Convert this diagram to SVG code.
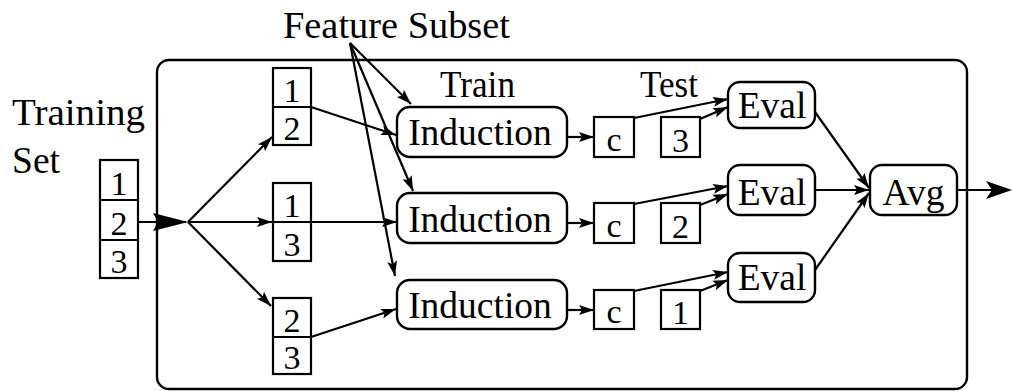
<svg xmlns="http://www.w3.org/2000/svg" width="1012" height="391" viewBox="0 0 1012 391">
  <style>
    text { font-family: "Liberation Serif", "Times New Roman", serif; fill: #000; }
    .lbl { font-size: 37.5px; }
    .num { font-size: 34px; text-anchor: middle; }
    .mid { text-anchor: middle; }
    .box { fill: #fff; stroke: #000; stroke-width: 2.2; }
    .rbox { fill: #fff; stroke: #000; stroke-width: 2.4; }
    .edge { fill: none; stroke: #000; stroke-width: 2.2; marker-end: url(#arr); }
    .plain { fill: none; stroke: #000; stroke-width: 2.2; }
  </style>
  <defs>
    <marker id="arr" markerUnits="userSpaceOnUse" markerWidth="16" markerHeight="12" refX="15" refY="6" orient="auto">
      <path d="M0,1 L15,6 L0,11 L3,6 Z" fill="#000"/>
    </marker>
  </defs>
  <rect width="1012" height="391" fill="#fff"/>

  <!-- enclosing process frame -->
  <rect id="frame" x="157" y="60" width="810" height="329" rx="12" fill="none" stroke="#000" stroke-width="2.4"/>

  <!-- free labels -->
  <text class="lbl" x="283" y="38" textLength="227" lengthAdjust="spacingAndGlyphs">Feature Subset</text>
  <text class="lbl" x="12" y="125" textLength="133" lengthAdjust="spacingAndGlyphs">Training</text>
  <text class="lbl" x="12" y="173" textLength="48" lengthAdjust="spacingAndGlyphs">Set</text>
  <text class="lbl" x="440" y="97" textLength="75" lengthAdjust="spacingAndGlyphs">Train</text>
  <text class="lbl" x="640" y="97" textLength="58" lengthAdjust="spacingAndGlyphs">Test</text>

  <!-- connectors -->
  <g id="connectors">
    <line class="plain" x1="138" y1="222" x2="186" y2="222"/>
    <polygon points="153,213 188,222 153,231 158,222" fill="#000"/>
    <line class="edge" x1="188" y1="222" x2="272" y2="137"/>
    <line class="edge" x1="188" y1="222" x2="272" y2="222"/>
    <line class="edge" x1="188" y1="222" x2="271" y2="306"/>
    <line class="edge" x1="311" y1="107" x2="396" y2="135"/>
    <line class="edge" x1="311" y1="222" x2="397" y2="222"/>
    <line class="edge" x1="311" y1="337" x2="396" y2="309"/>
    <line class="edge" x1="350" y1="43" x2="411" y2="104"/>
    <line class="edge" x1="350" y1="43" x2="413" y2="191"/>
    <line class="edge" x1="350" y1="43" x2="395" y2="276"/>
    <line class="edge" x1="567" y1="137" x2="594" y2="137"/>
    <line class="edge" x1="567" y1="223" x2="594" y2="223"/>
    <line class="edge" x1="567" y1="310" x2="594" y2="310"/>
    <line class="edge" x1="634" y1="118" x2="728" y2="99"/>
    <line class="edge" x1="700" y1="119" x2="728" y2="107"/>
    <line class="edge" x1="634" y1="204" x2="728" y2="186"/>
    <line class="edge" x1="700" y1="205" x2="728" y2="194"/>
    <line class="edge" x1="634" y1="291" x2="728" y2="272"/>
    <line class="edge" x1="700" y1="291" x2="728" y2="280"/>
    <line class="edge" x1="815" y1="112" x2="869" y2="188"/>
    <line class="edge" x1="815" y1="190" x2="869" y2="190"/>
    <line class="edge" x1="815" y1="270" x2="869" y2="193"/>
    <line class="plain" x1="957" y1="190" x2="1000" y2="190" stroke-width="2.6"/>
    <polygon points="986,181 1012,190 986,199 992,190" fill="#000"/>
  </g>

  <!-- training set -->
  <g id="training-set">
    <rect class="box" x="100" y="160" width="38" height="118"/>
    <line class="plain" x1="100" y1="200" x2="138" y2="200"/>
    <line class="plain" x1="100" y1="240" x2="138" y2="240"/>
    <text class="num" x="119" y="195">1</text>
    <text class="num" x="119" y="235">2</text>
    <text class="num" x="119" y="273">3</text>
  </g>

  <!-- feature subsets of the folds -->
  <g id="fold-1">
    <rect class="box" x="273" y="68" width="38" height="77"/>
    <line class="plain" x1="273" y1="107" x2="311" y2="107"/>
    <text class="num" x="292" y="102">1</text>
    <text class="num" x="292" y="140">2</text>
  </g>
  <g id="fold-2">
    <rect class="box" x="273" y="183" width="38" height="78"/>
    <line class="plain" x1="273" y1="222" x2="311" y2="222"/>
    <text class="num" x="292" y="217">1</text>
    <text class="num" x="292" y="256">3</text>
  </g>
  <g id="fold-3">
    <rect class="box" x="273" y="298" width="38" height="76"/>
    <line class="plain" x1="273" y1="337" x2="311" y2="337"/>
    <text class="num" x="292" y="332">2</text>
    <text class="num" x="292" y="369">3</text>
  </g>

  <!-- induction -->
  <g id="induction-1">
    <rect class="rbox" x="397" y="107" width="170" height="50" rx="13"/>
    <text class="lbl mid" x="480" y="145">Induction</text>
  </g>
  <g id="induction-2">
    <rect class="rbox" x="397" y="193" width="170" height="50" rx="13"/>
    <text class="lbl mid" x="480" y="232">Induction</text>
  </g>
  <g id="induction-3">
    <rect class="rbox" x="397" y="280" width="170" height="49" rx="13"/>
    <text class="lbl mid" x="480" y="318">Induction</text>
  </g>

  <!-- classifiers -->
  <g id="classifier-1">
    <rect class="box" x="594" y="117" width="40" height="40"/>
    <text class="num" x="614" y="151">c</text>
  </g>
  <g id="classifier-2">
    <rect class="box" x="594" y="203" width="40" height="40"/>
    <text class="num" x="614" y="237">c</text>
  </g>
  <g id="classifier-3">
    <rect class="box" x="594" y="290" width="40" height="39"/>
    <text class="num" x="614" y="323">c</text>
  </g>

  <!-- test folds -->
  <g id="test-1">
    <rect class="box" x="661" y="117" width="39" height="40"/>
    <text class="num" x="680.5" y="152">3</text>
  </g>
  <g id="test-2">
    <rect class="box" x="661" y="203" width="39" height="40"/>
    <text class="num" x="680.5" y="238">2</text>
  </g>
  <g id="test-3">
    <rect class="box" x="661" y="290" width="39" height="39"/>
    <text class="num" x="680.5" y="324">1</text>
  </g>

  <!-- evaluation -->
  <g id="eval-1">
    <rect class="rbox" x="728" y="82" width="87" height="46" rx="12"/>
    <text class="lbl mid" x="772" y="118">Eval</text>
  </g>
  <g id="eval-2">
    <rect class="rbox" x="728" y="165" width="87" height="50" rx="12"/>
    <text class="lbl mid" x="772" y="205">Eval</text>
  </g>
  <g id="eval-3">
    <rect class="rbox" x="728" y="253" width="87" height="49" rx="12"/>
    <text class="lbl mid" x="772" y="290">Eval</text>
  </g>

  <!-- average -->
  <g id="avg">
    <rect class="rbox" x="870" y="165" width="87" height="50" rx="12"/>
    <text class="lbl mid" x="913.5" y="205">Avg</text>
  </g>
</svg>
